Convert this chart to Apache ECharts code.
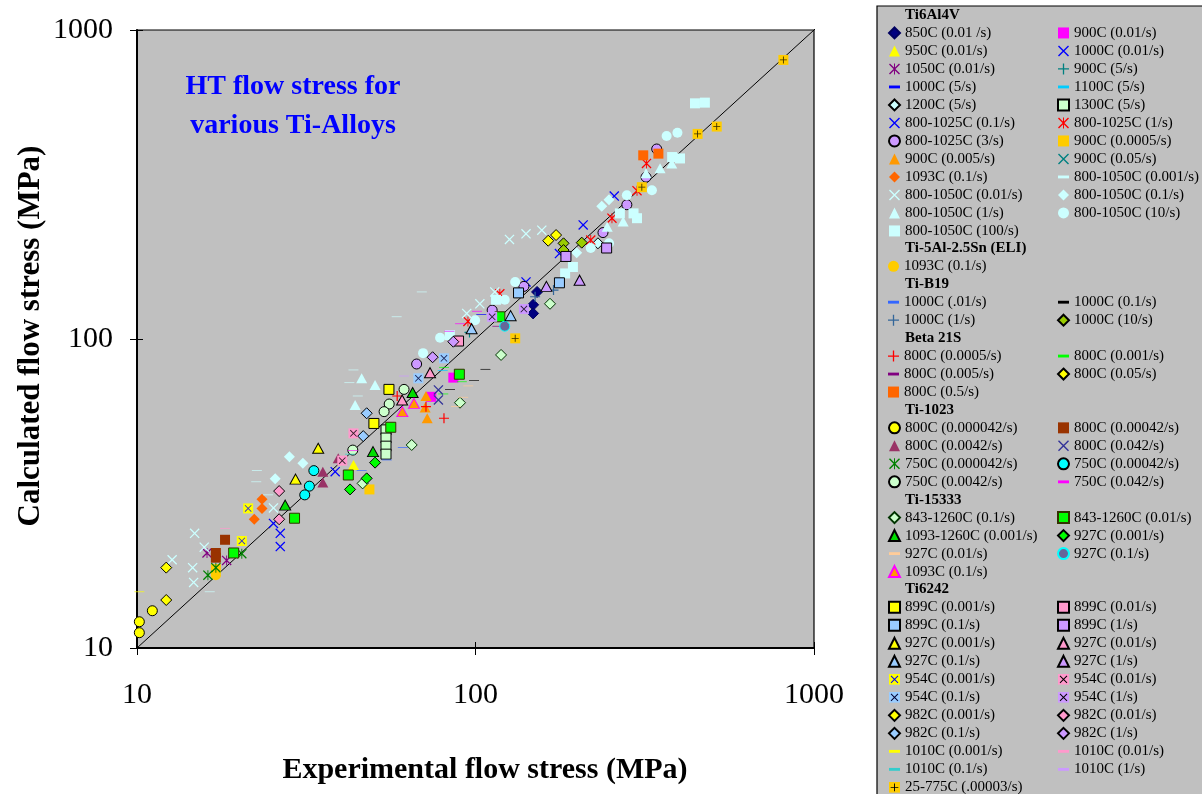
<!DOCTYPE html>
<html><head><meta charset="utf-8">
<script src="https://cdn.jsdelivr.net/npm/echarts/dist/echarts.min.js"></script>
<style>html,body{margin:0;padding:0;background:#fff}#c{width:1202px;height:794px}</style>
</head><body><div id="c"></div><script>
// ---------- DATA (experimental MPa, calculated MPa) ----------
const axisTicks = [10, 100, 1000];
const diagLine = [[10, 10], [1060, 1060]];
// Ti6Al4V
const t64_850_001 = [[152,142],[148,129],[148,121]];
const t64_900_001 = [[74,65],[86,75]];
const t64_950_001 = [[43.6,39.1]];
const t64_1000_001 = [[25.3,25.3],[26.5,23.5],[26.5,21.3],[38.5,37.2]];
const t64_1050_001 = [[16.1,20.3],[18.4,19.2]];
const t64_900_5 = [[96,105]];
const t64_1000_5 = [[104,120]];
const t64_1100_5 = [[80,79]];
const t64_1200_5 = [[230,204]];
const t64_1300_5 = [[54.4,50.8],[54.4,47.8],[54.4,45],[54.4,42.4]];
const t64_8001025_01 = [[208,234],[257,290],[177,189],[141,153]];
const t64_8001025_1 = [[95,114],[118,140],[253,246],[219,209],[320,370],[300,302]];
const t64_8001025_3 = [[67,83],[139,148],[112,124],[238,221],[280,272],[343,412],[319,334]];
const t64_900_00005 = [[48.6,32.6],[17.1,18]];
const t64_900_0005 = [[71.4,65.4],[72,55.4],[71,60]];
const t64_900_005 = [];
const t64_1093_01 = [[23.4,30.3],[23.4,28.3],[22.2,26.1]];
const t64_8001050_0001 = [[16.4,15.2],[24.4,31.3],[22.6,37.5],[22.5,34.5],[58.5,118],[43.6,79.4],[42.4,72.2],[44.9,65.4],[69.4,142]];
const t64_8001050_001 = [[14.8,23.5],[15.8,21.2],[12.7,19.3],[14.6,18.2],[14.7,16.3],[25.3,28.4],[126,210],[141,219],[157,225],[114,142],[103,130],[94.2,121]];
const t64_8001050_01 = [[28.2,41.6],[30.9,39.6],[25.6,35.3],[236,269],[248,282],[199,190]];
const t64_8001050_1 = [[44.1,61.1],[46.1,74.6],[50.5,71],[319,344],[351,357],[245,231],[273,240],[380,370]];
const t64_8001050_10 = [[367,454],[395,465],[332,303],[280,292],[219,197],[248,204],[70,90],[78.6,101],[99.7,115],[122,134],[131,153]];
const t64_8001050_100 = [[445,579],[476,582],[402,384],[381,388],[293,255],[267,255],[300,246],[194,171],[184,163],[115,134],[84,103]];
// Ti-5Al-2.5Sn (ELI)
const t5_1093_01 = [[17.1,17.2]];
// Ti-B19
const b19_1000_001 = [[46.1,37.5],[54.7,40.6],[61,44.6]];
const b19_1000_01 = [[84.1,68.7],[99,73.3],[107,79.8]];
const b19_1000_1 = [[150,137],[170,144]];
const b19_1000_10 = [[182,204],[206,205],[182,194]];
// Beta 21S
const b21_800_00005 = [[58.7,65.4],[71.4,60.4],[80.7,55.4]];
const b21_800_0001 = [[80.7,81],[80.3,66.4],[91.1,72.7]];
const b21_800_0005 = [[116,110]];
const b21_800_005 = [[164,208],[173,217]];
const b21_800_05 = [[313,393],[347,398]];
// Ti-1023
const t1023_800_a = [[10.16,12.16],[10.16,11.21],[11.1,13.2]];
const t1023_800_b = [[18.2,22.4],[17.1,20.3],[17.1,19.6]];
const t1023_800_c = [[35.4,37.2],[35.4,34.3],[39.3,41.1]];
const t1023_800_d = [[77.7,68.4],[77.7,63.5]];
const t1023_750_a = [[16.2,17.2],[17.1,18.2],[20.4,20.2]];
const t1023_750_b = [[33.3,37.5],[32.3,33.4],[31.3,31.3]];
const t1023_750_c = [[61.5,68.7],[55.6,61.6],[53.7,58.2],[43.4,43.7]];
const t1023_750_d = [[83.7,106],[90,112],[101,123],[43.4,43.5]];
// Ti-15333
const t153_843_01 = [[46.4,34.1],[64.8,45.4],[90,62.2],[119,88.8],[166,130]];
const t153_843_001 = [[19.3,20.3],[29.2,26.3],[42.1,36.3],[56.2,51.8],[89.6,76.9],[118,118]];
const t153_1093_0001 = [[27.4,29],[49.8,43.2],[65.2,67.1]];
const t153_927_0001 = [[50.5,39.8],[47.7,35.4],[42.6,32.6]];
const t153_927_001 = [[95.2,70.5],[92,64.8],[87.6,60.4]];
const t153_927_01 = [[122,110]];
const t153_1093_01 = [[65.8,61.9],[60.8,58.2]];
// Ti6242
const t62_899_0001 = [[50.1,53.3],[55.5,68.7]];
const t62_899_001 = [[89.1,98.5]];
const t62_899_01 = [[177,152],[134,141]];
const t62_899_1 = [[185,185],[244,197]];
const t62_927_0001 = [[34.3,44.3],[29.4,35.2]];
const t62_927_001 = [[60.7,63.5],[73.4,77.8]];
const t62_927_01 = [[97.4,108],[127,119]];
const t62_927_1 = [[203,155],[162,148]];
const t62_954_0001 = [[21.3,28.3],[20.4,22.2]];
const t62_954_001 = [[43.6,49.5],[40.4,40.4]];
const t62_954_01 = [[67.8,74.6],[80.7,86.6]];
const t62_954_1 = [[139,125],[112,118]];
const t62_982_0001 = [[12.2,18.2],[12.2,14.3]];
const t62_982_001 = [[26.3,26.1],[26.3,32.2]];
const t62_982_01 = [[47.7,57.5],[46.6,48.5]];
const t62_982_1 = [[74.7,87.3],[86,98]];
const t62_1010_0001 = [[10.16,15.2]];
const t62_1010_001 = [[18.2,24.4]];
const t62_1010_01 = [[42.6,42.4]];
const t62_1010_1 = [[61.5,75.9]];
const t62_25_775 = [[812,800],[516,487],[453,461],[310,310],[131,100.5]];

// ---------- STYLE TABLE ----------
const FONT = '"Liberation Serif","Times New Roman",serif';
const XP = 'M0 0.9L0.9 0L10 9.1L9.1 10Z M9.1 0L10 0.9L0.9 10L0 9.1Z';
const PP = 'M4.4 0H5.6V10H4.4Z M0 4.4H10V5.6H0Z';
const SYMS = {
  diamond: {symbol: 'diamond', size: [11, 11]},
  square: {symbol: 'rect', size: [10, 10]},
  triangle: {symbol: 'triangle', size: [11, 10]},
  circle: {symbol: 'circle', size: 10},
  x: {symbol: 'path://' + XP, size: [10, 10]},
  star: {symbol: 'path://' + XP + ' M4.55 0H5.45V10H4.55Z', size: [10, 10]},
  plus: {symbol: 'path://' + PP, size: [10, 10]},
  dash: {symbol: 'path://M0 0H10V2.6H0Z', size: [10, 2.6]}
};
const groups = [
 ['Ti6Al4V', [
  ['850C (0.01 /s)', t64_850_001, 'diamond', '#000080', '#000060'],
  ['900C (0.01/s)', t64_900_001, 'square', '#FF00FF'],
  ['950C (0.01/s)', t64_950_001, 'triangle', '#FFFF00'],
  ['1000C (0.01/s)', t64_1000_001, 'x', '#0000FF'],
  ['1050C (0.01/s)', t64_1050_001, 'star', '#800080'],
  ['900C (5/s)', t64_900_5, 'plus', '#008080'],
  ['1000C (5/s)', t64_1000_5, 'dash', '#0000FF'],
  ['1100C (5/s)', t64_1100_5, 'dash', '#00CCFF'],
  ['1200C (5/s)', t64_1200_5, 'diamond', '#CCFFFF', '#000'],
  ['1300C (5/s)', t64_1300_5, 'square', '#CCFFCC', '#000'],
  ['800-1025C (0.1/s)', t64_8001025_01, 'x', '#0000FF'],
  ['800-1025C (1/s)', t64_8001025_1, 'star', '#FF0000'],
  ['800-1025C (3/s)', t64_8001025_3, 'circle', '#CC99FF', '#000'],
  ['900C (0.0005/s)', t64_900_00005, 'square', '#FFCC00'],
  ['900C (0.005/s)', t64_900_0005, 'triangle', '#FF9900'],
  ['900C (0.05/s)', t64_900_005, 'x', '#008080'],
  ['1093C (0.1/s)', t64_1093_01, 'diamond', '#FF6600'],
  ['800-1050C (0.001/s)', t64_8001050_0001, 'dash', '#CCFFFF'],
  ['800-1050C (0.01/s)', t64_8001050_001, 'x', '#CCFFFF'],
  ['800-1050C (0.1/s)', t64_8001050_01, 'diamond', '#CCFFFF'],
  ['800-1050C (1/s)', t64_8001050_1, 'triangle', '#CCFFFF'],
  ['800-1050C (10/s)', t64_8001050_10, 'circle', '#CCFFFF'],
  ['800-1050C (100/s)', t64_8001050_100, 'square', '#CCFFFF']
 ]],
 ['Ti-5Al-2.5Sn (ELI)', [
  ['1093C (0.1/s)', t5_1093_01, 'circle', '#FFCC00']
 ]],
 ['Ti-B19', [
  ['1000C (.01/s)', b19_1000_001, 'dash', '#3366FF'],
  ['1000C (0.1/s)', b19_1000_01, 'dash', '#000000'],
  ['1000C (1/s)', b19_1000_1, 'plus', '#336699'],
  ['1000C (10/s)', b19_1000_10, 'diamond', '#99CC00', '#000']
 ]],
 ['Beta 21S', [
  ['800C (0.0005/s)', b21_800_00005, 'plus', '#FF0000'],
  ['800C (0.001/s)', b21_800_0001, 'dash', '#00FF00'],
  ['800C (0.005/s)', b21_800_0005, 'dash', '#800080'],
  ['800C (0.05/s)', b21_800_005, 'diamond', '#FFFF00', '#000'],
  ['800C (0.5/s)', b21_800_05, 'square', '#FF6600']
 ]],
 ['Ti-1023', [
  ['800C (0.000042/s)', t1023_800_a, 'circle', '#FFFF00', '#000'],
  ['800C (0.00042/s)', t1023_800_b, 'square', '#993300'],
  ['800C (0.0042/s)', t1023_800_c, 'triangle', '#993366'],
  ['800C (0.042/s)', t1023_800_d, 'x', '#333399'],
  ['750C (0.000042/s)', t1023_750_a, 'star', '#008000'],
  ['750C (0.00042/s)', t1023_750_b, 'circle', '#00FFFF', '#000'],
  ['750C (0.0042/s)', t1023_750_c, 'circle', '#CCFFCC', '#000'],
  ['750C (0.042/s)', t1023_750_d, 'dash', '#FF00FF']
 ]],
 ['Ti-15333', [
  ['843-1260C (0.1/s)', t153_843_01, 'diamond', '#CCFFCC', '#003300'],
  ['843-1260C (0.01/s)', t153_843_001, 'square', '#00FF00', '#333300'],
  ['1093-1260C (0.001/s)', t153_1093_0001, 'triangle', '#00DD00', '#000'],
  ['927C (0.001/s)', t153_927_0001, 'diamond', '#00FF00', '#000'],
  ['927C (0.01/s)', t153_927_001, 'dash', '#FFCC99'],
  ['927C (0.1/s)', t153_927_01, 'circle', '#666699', '#00FFFF'],
  ['1093C (0.1/s)', t153_1093_01, 'triangle', '#FF9900', '#FF00FF']
 ]],
 ['Ti6242', [
  ['899C (0.001/s)', t62_899_0001, 'square', '#FFFF00', '#000'],
  ['899C (0.01/s)', t62_899_001, 'square', '#FF99CC', '#000'],
  ['899C (0.1/s)', t62_899_01, 'square', '#99CCFF', '#000'],
  ['899C (1/s)', t62_899_1, 'square', '#CC99FF', '#000'],
  ['927C (0.001/s)', t62_927_0001, 'triangle', '#FFFF00', '#000'],
  ['927C (0.01/s)', t62_927_001, 'triangle', '#FF99CC', '#000'],
  ['927C (0.1/s)', t62_927_01, 'triangle', '#99CCFF', '#000'],
  ['927C (1/s)', t62_927_1, 'triangle', '#CC99FF', '#000'],
  ['954C (0.001/s)', t62_954_0001, 'square', '#FFFF00', null, XP, '#0000FF'],
  ['954C (0.01/s)', t62_954_001, 'square', '#FF99CC', null, XP, '#000000'],
  ['954C (0.1/s)', t62_954_01, 'square', '#99CCFF', null, XP, '#000033'],
  ['954C (1/s)', t62_954_1, 'square', '#CC99FF', null, XP, '#000000'],
  ['982C (0.001/s)', t62_982_0001, 'diamond', '#FFFF00', '#000'],
  ['982C (0.01/s)', t62_982_001, 'diamond', '#FF99CC', '#000'],
  ['982C (0.1/s)', t62_982_01, 'diamond', '#99CCFF', '#000'],
  ['982C (1/s)', t62_982_1, 'diamond', '#CC99FF', '#000'],
  ['1010C (0.001/s)', t62_1010_0001, 'dash', '#FFFF00'],
  ['1010C (0.01/s)', t62_1010_001, 'dash', '#FF99CC'],
  ['1010C (0.1/s)', t62_1010_01, 'dash', '#33CCCC'],
  ['1010C (1/s)', t62_1010_1, 'dash', '#CC99FF'],
  ['25-775C (.00003/s)', t62_25_775, 'square', '#FFCC00', null, PP, '#000000']
 ]]
];

function svgIcon(fill, mark, markColor) {
  const svg = '<svg xmlns="http://www.w3.org/2000/svg" width="30" height="30" viewBox="0 0 10 10">' +
    '<rect width="10" height="10" fill="' + fill + '"/>' +
    '<path transform="translate(1.5 1.5) scale(0.7)" d="' + mark + '" fill="' + markColor + '"/></svg>';
  return 'image://data:image/svg+xml;charset=utf-8,' + encodeURIComponent(svg);
}

const series = [{
  type: 'line', name: '_diag', data: diagLine, symbol: 'none', clip: false, silent: true,
  lineStyle: {color: '#000', width: 1}, z: 1
}];
const legends = [];
const graphics = [
  {type: 'rect', shape: {x: 877, y: 6, width: 340, height: 800}, style: {fill: '#C0C0C0', stroke: '#000', lineWidth: 1.2}, z: 0},
  {type: 'text', x: 293, y: 106, z: 10, style: {text: 'HT flow stress for\nvarious Ti-Alloys', fill: '#0000FF',
    font: 'bold 28px ' + FONT, align: 'center', verticalAlign: 'middle', lineHeight: 39}},
  {type: 'text', x: 31, y: 336, rotation: Math.PI / 2, z: 10, style: {text: 'Calculated flow stress (MPa)', fill: '#000',
    font: 'bold 31px ' + FONT, align: 'center', verticalAlign: 'middle'}},
  {type: 'text', x: 485, y: 770, z: 10, style: {text: 'Experimental flow stress (MPa)', fill: '#000',
    font: 'bold 30px ' + FONT, align: 'center', verticalAlign: 'middle'}}
];
const ROW0 = 15, ROWH = 17.95;
const legendCommon = {
  orient: 'vertical', itemGap: 0, itemWidth: 11, itemHeight: 11, padding: 0, selectedMode: false, z: 5,
  height: 400, width: 160,
  formatter: n => n.split('|')[1],
  textStyle: {fontFamily: FONT, fontSize: 15, color: '#000', lineHeight: 18}
};
let row = 0;
groups.forEach(([gname, items]) => {
  graphics.push({type: 'text', x: 905, y: ROW0 + row * ROWH, z: 10,
    style: {text: gname, fill: '#000', font: 'bold 15px ' + FONT, align: 'left', verticalAlign: 'middle'}});
  row++;
  const left = [], right = [];
  items.forEach((it, i) => {
    const [label, data, sym, color, border, mark, markColor] = it;
    const key = gname + '|' + label;
    const s = SYMS[sym];
    series.push({
      type: 'scatter', name: key, data: data, symbol: s.symbol, symbolSize: s.size, symbolKeepAspect: true,
      itemStyle: {color: color, borderColor: border || color, borderWidth: border ? 1 : 0, opacity: 1},
      emphasis: {disabled: true}, silent: true
    });
    const ld = {name: key};
    if (mark) {
      series.push({
        type: 'scatter', name: '_ov_' + key, data: data, symbol: 'path://' + mark, symbolSize: 7, symbolKeepAspect: true,
        itemStyle: {color: markColor, borderWidth: 0}, emphasis: {disabled: true}, silent: true
      });
      ld.icon = svgIcon(color, mark, markColor);
    }
    (i % 2 === 0 ? left : right).push(ld);
  });
  legends.push(Object.assign({}, legendCommon, {data: left, left: 888, top: ROW0 + row * ROWH - 9}));
  if (right.length) legends.push(Object.assign({}, legendCommon, {data: right, left: 1057, top: ROW0 + row * ROWH - 9}));
  row += Math.ceil(items.length / 2);
});

const axisBase = {
  type: 'log', logBase: 10, min: axisTicks[0], max: axisTicks[axisTicks.length - 1], splitLine: {show: false}
};
const labelStyle = {color: '#000', fontFamily: FONT, fontSize: 30, formatter: v => String(Math.round(v))};
const option = {
  animation: false,
  backgroundColor: '#FFFFFF',
  grid: {left: 137, top: 30, width: 677, height: 618, show: true, backgroundColor: '#C0C0C0', borderColor: '#000', borderWidth: 1.2},
  xAxis: [
    Object.assign({}, axisBase, {position: 'bottom', axisLine: {onZero: false, lineStyle: {color: '#000', width: 2}},
      axisTick: {length: 7, lineStyle: {color: '#000', width: 1}}, axisLabel: Object.assign({margin: 32}, labelStyle)}),
    Object.assign({}, axisBase, {position: 'bottom', axisLine: {show: false},
      axisTick: {inside: true, length: 6, lineStyle: {color: '#000', width: 1}}, axisLabel: {show: false}})
  ],
  yAxis: [
    Object.assign({}, axisBase, {position: 'left', axisLine: {onZero: false, lineStyle: {color: '#000', width: 2}},
      axisTick: {length: 7, lineStyle: {color: '#000', width: 1}}, axisLabel: Object.assign({margin: 24}, labelStyle)}),
    Object.assign({}, axisBase, {position: 'left', axisLine: {show: false},
      axisTick: {inside: true, length: 6, lineStyle: {color: '#000', width: 1}}, axisLabel: {show: false}})
  ],
  legend: legends,
  graphic: graphics,
  series: series
};
const chart = echarts.init(document.getElementById('c'), null, {renderer: 'canvas'});
chart.setOption(option);
</script></body></html>
